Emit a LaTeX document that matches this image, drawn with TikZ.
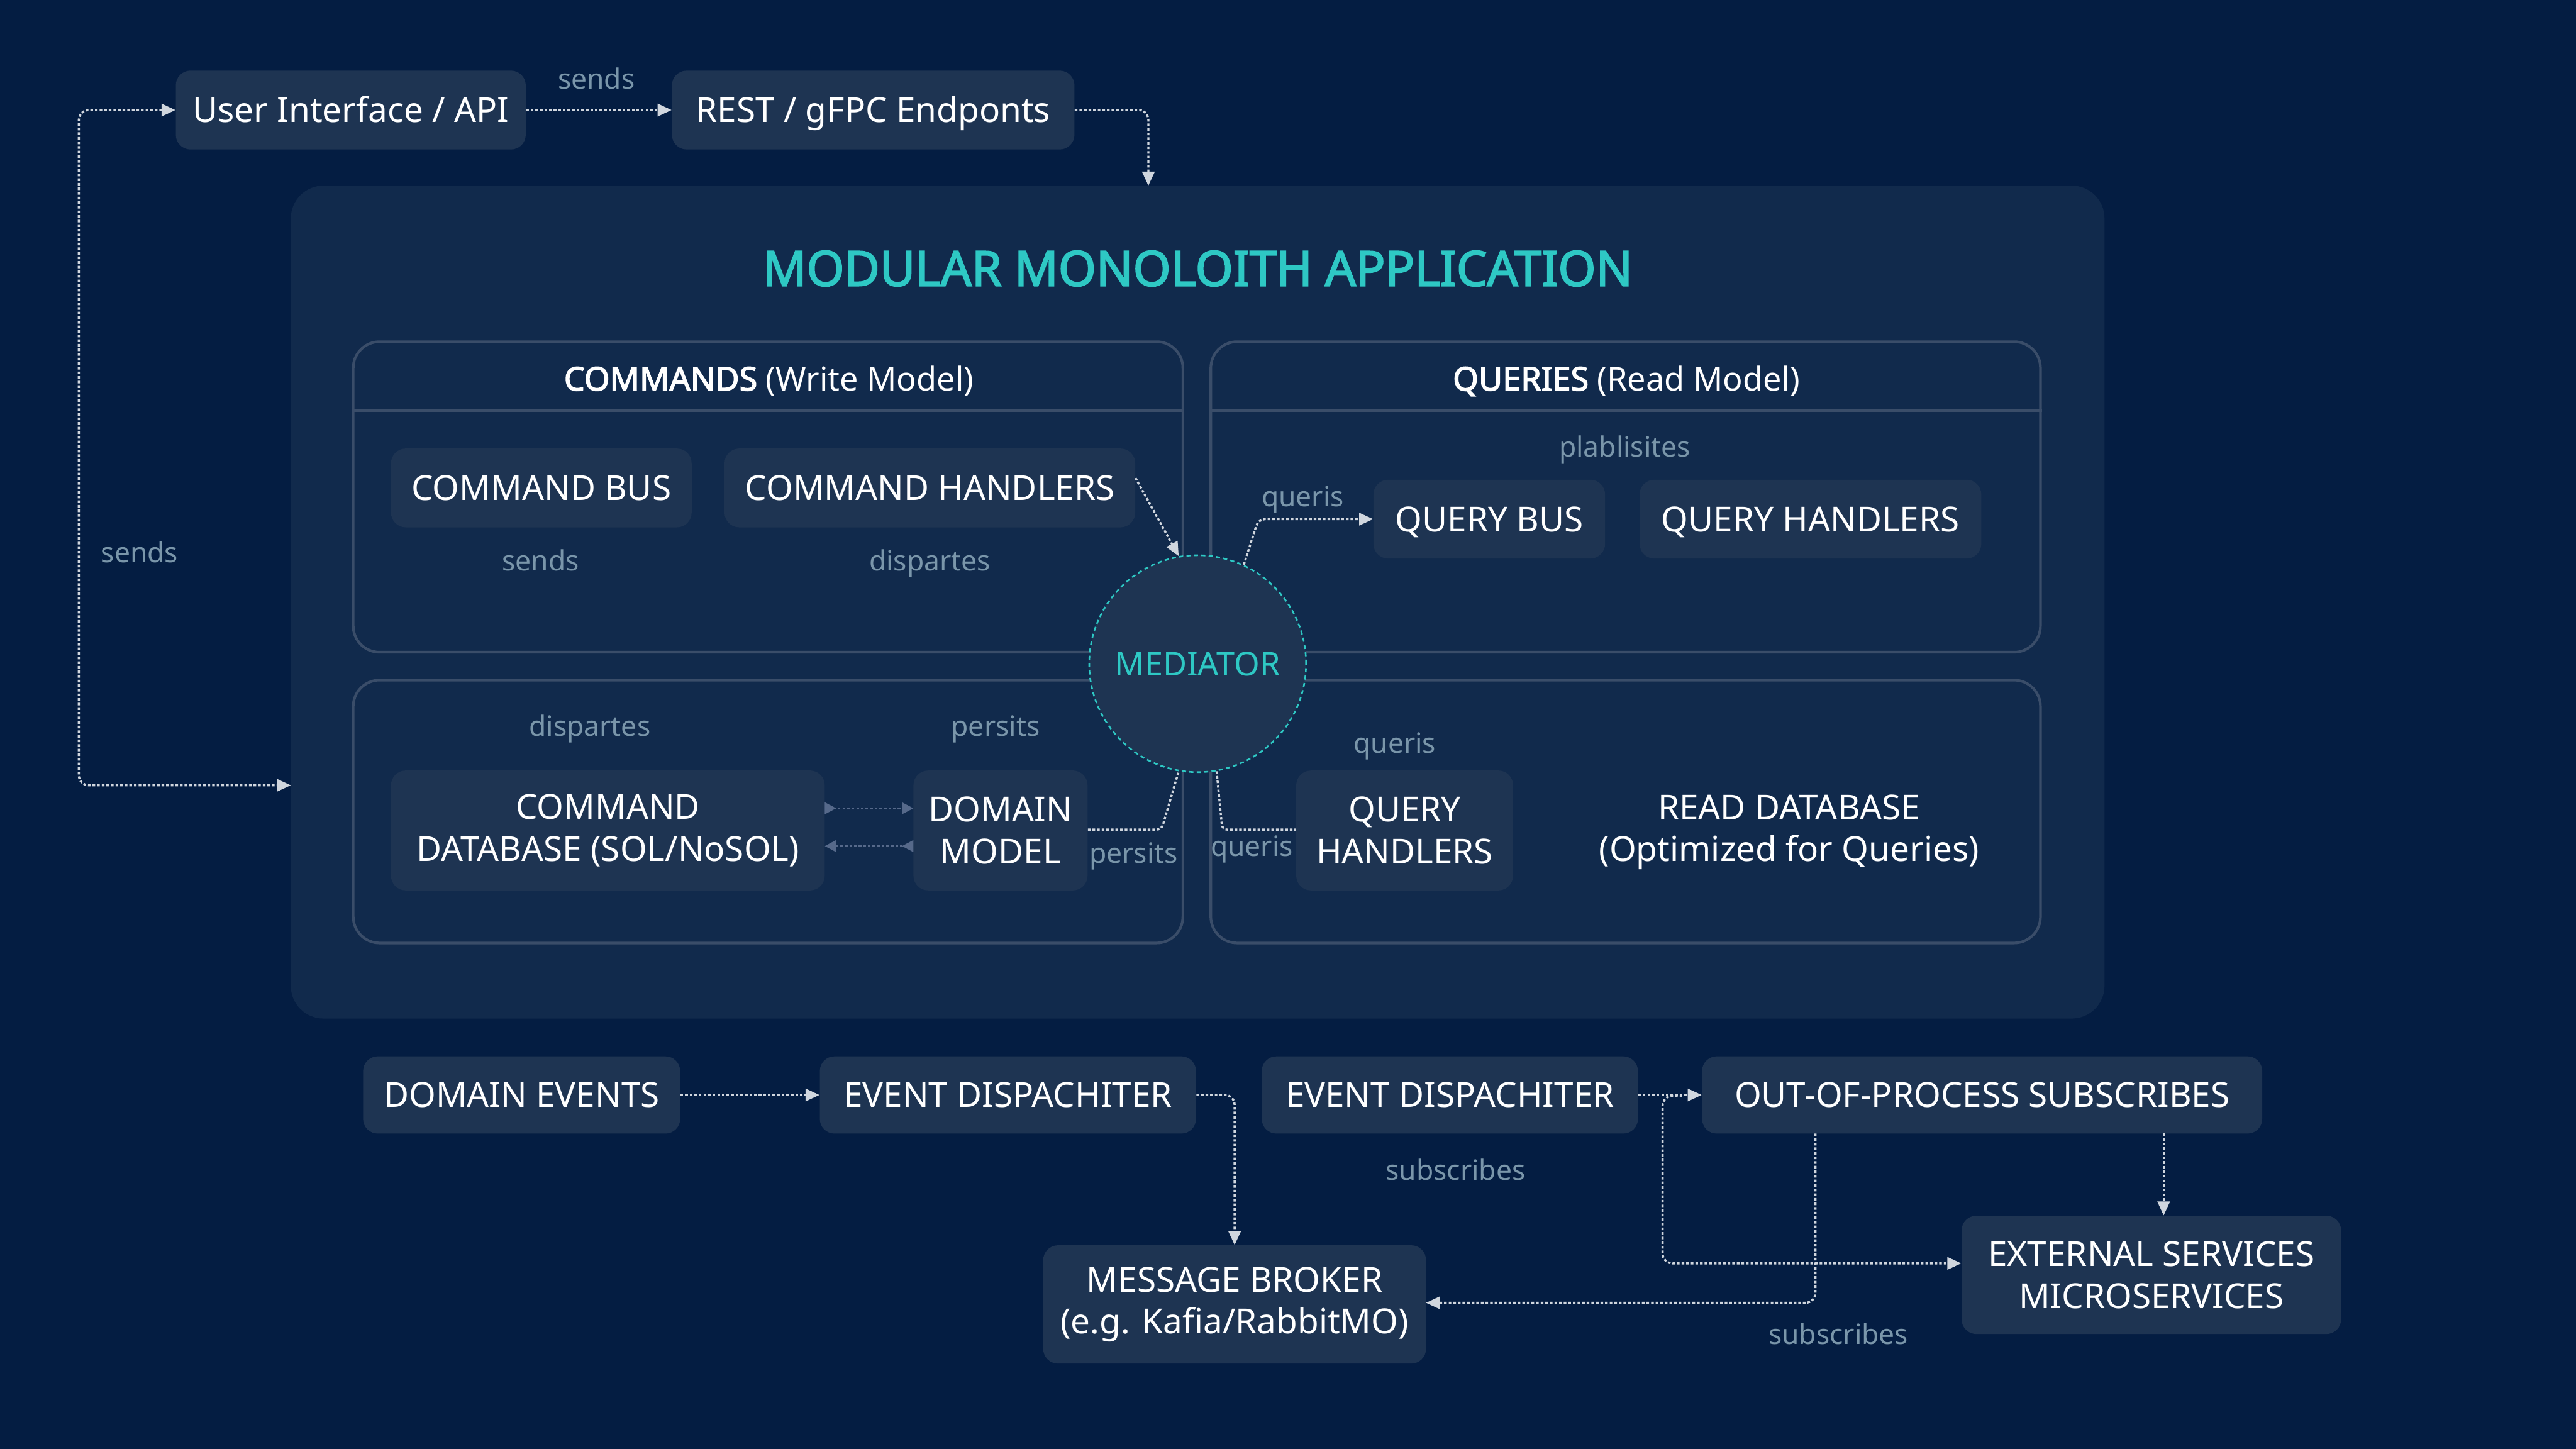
\documentclass[tikz,border=0pt]{standalone}
\usepackage{fontspec}
\setmainfont{Noto Sans}[AutoFakeBold=2.6]
\usetikzlibrary{arrows.meta,calc}
\definecolor{bg}{HTML}{041D42}
\definecolor{cont}{HTML}{112A4C}
\definecolor{boxc}{HTML}{1E3452}
\definecolor{panelb}{HTML}{3A4D69}
\definecolor{lab}{HTML}{7A96AA}
\definecolor{tealc}{HTML}{2EC8C4}
\definecolor{arrowc}{HTML}{D0D6DE}
\definecolor{darkarr}{HTML}{56698A}
\tikzset{
  box/.style={fill=boxc, rounded corners=9pt, text=white, font=\fontsize{21}{25.5}\selectfont, align=center, inner sep=0pt},
  oneline/.style={text height=15pt, text depth=0pt},
  panel/.style={draw=panelb, line width=1.6pt, fill=cont, rounded corners=16pt, inner sep=0pt},
  lbl/.style={text=lab, font=\fontsize{17}{20}\selectfont, inner sep=0pt, text height=12.5pt, text depth=0pt},
  conn/.style={draw=arrowc, line width=1.3pt, dash pattern=on 1.6pt off 1.2pt},
  tip/.style={-{Triangle[length=8.5pt,width=7.5pt]}},
  dconn/.style={draw=darkarr, line width=1.3pt, dash pattern=on 1.6pt off 1.2pt}
}
\begin{document}
\begin{tikzpicture}[x=1pt,y=-1pt]
\useasboundingbox (0,0) rectangle (1568,882);
\fill[bg] (0,0) rectangle (1568,882);
% container
\node[fill=cont, rounded corners=20pt, minimum width=1104pt, minimum height=507pt, inner sep=0pt] (container) at (729,366.5) {};
\node[text=tealc, font=\bfseries\fontsize{29.5}{34}\selectfont, text height=21pt, text depth=0pt, inner sep=0pt] (title) at (729,163.5) {MODULAR MONOLOITH APPLICATION};
% panels
\node[panel, minimum width=505pt, minimum height=189pt] (cmdpanel) at (467.5,302.5) {};
\node[panel, minimum width=505pt, minimum height=189pt] (qrypanel) at (989.5,302.5) {};
\node[panel, minimum width=505pt, minimum height=160pt] (cmdlow) at (467.5,494) {};
\node[panel, minimum width=505pt, minimum height=160pt] (qrylow) at (989.5,494) {};
\draw[panelb, line width=1.6pt] (cmdpanel.west |- 0,250) -- (cmdpanel.east |- 0,250);
\draw[panelb, line width=1.6pt] (qrypanel.west |- 0,250) -- (qrypanel.east |- 0,250);
\node[text=white, font=\fontsize{20}{24}\selectfont, text height=14.5pt, text depth=0pt, inner sep=0pt] (cmdtitle) at (468,230.5) {\textbf{COMMANDS} (Write Model)};
\node[text=white, font=\fontsize{20}{24}\selectfont, text height=14.5pt, text depth=0pt, inner sep=0pt] (qrytitle) at (990,230.5) {\textbf{QUERIES} (Read Model)};
% top boxes
\node[box, oneline, minimum width=213pt, minimum height=48pt] (ui) at (213.5,67) {User Interface / API};
\node[box, oneline, minimum width=245pt, minimum height=48pt] (rest) at (531.5,67) {REST / gFPC Endponts};
% command boxes
\node[box, oneline, minimum width=183pt, minimum height=48pt] (cbus) at (329.5,297) {COMMAND BUS};
\node[box, oneline, minimum width=250pt, minimum height=48pt] (chand) at (566,297) {COMMAND HANDLERS};
\node[box, oneline, minimum width=141pt, minimum height=48pt] (qbus) at (906.5,316) {QUERY BUS};
\node[box, oneline, minimum width=208pt, minimum height=48pt] (qhand) at (1102,316) {QUERY HANDLERS};
\node[box, minimum width=264pt, minimum height=73pt] (cdb) at (370,505.5) {COMMAND\\DATABASE (SOL/NoSOL)};
\node[box, minimum width=106pt, minimum height=73pt] (dm) at (609,505.5) {DOMAIN\\MODEL};
\node[box, minimum width=132pt, minimum height=73pt] (qh2) at (855,505.5) {QUERY\\HANDLERS};
\node[text=white, font=\fontsize{21}{25.5}\selectfont, align=center, inner sep=0pt] (readdb) at (1089,506.5) {READ DATABASE\\(Optimized for Queries)};
% mediator
\node[circle, fill=boxc, draw=tealc, line width=1pt, dash pattern=on 2.5pt off 2pt, minimum size=132pt, inner sep=0pt, text=tealc, font=\fontsize{20}{24}\selectfont, text height=14.5pt, text depth=0pt] (med) at (729,404) {MEDIATOR};
% bottom
\node[box, oneline, minimum width=193pt, minimum height=47pt] (de) at (317.5,666.5) {DOMAIN EVENTS};
\node[box, oneline, minimum width=229pt, minimum height=47pt] (ed1) at (613.5,666.5) {EVENT DISPACHITER};
\node[box, oneline, minimum width=229pt, minimum height=47pt] (ed2) at (882.5,666.5) {EVENT DISPACHITER};
\node[box, oneline, minimum width=341pt, minimum height=47pt] (oops) at (1206.5,666.5) {OUT-OF-PROCESS SUBSCRIBES};
\node[box, minimum width=233pt, minimum height=72pt] (mb) at (751.5,794) {MESSAGE BROKER\\(e.g. Kafia/RabbitMO)};
\node[box, minimum width=231pt, minimum height=72pt] (es) at (1309.5,776) {EXTERNAL SERVICES\\MICROSERVICES};
% labels
\node[lbl] (l1) at (363,48) {sends};
\node[lbl] (l2) at (85,336) {sends};
\node[lbl] (l3) at (329,341) {sends};
\node[lbl] (l4) at (566,341) {dispartes};
\node[lbl] (l5) at (989,272) {plablisites};
\node[lbl] (l6) at (793,302) {queris};
\node[lbl] (l7) at (359,442) {dispartes};
\node[lbl] (l8) at (606,442) {persits};
\node[lbl] (l9) at (690,519) {persits};
\node[lbl] (l10) at (762,515) {queris};
\node[lbl] (l11) at (849,452) {queris};
\node[lbl] (l12) at (886,712) {subscribes};
\node[lbl] (l13) at (1119,812) {subscribes};
% coordinates
\coordinate (cin) at (699,113);
\coordinate (lcorner) at (48,478);
\coordinate (cleft) at (177,478);
\coordinate (qbc) at (766,316);
\coordinate (dmc) at (707,505);
\coordinate (qhc) at (744,505);
\coordinate (br) at (1024,667);
\coordinate (brc) at (1012,769);
\coordinate (esin) at ($(es.west)+(0,-7)$);
\coordinate (ob) at (1105,690);
\coordinate (mbin) at (868,793);
\coordinate (o2) at (1317,690);
\coordinate (cdbu) at (502,492);
\coordinate (dmu) at (556,492);
\coordinate (cdbd) at (502,515);
\coordinate (dmd) at (556,515);
% connectors
\draw[conn, tip] (ui.east) -- (rest.west);
\draw[conn, tip, rounded corners=6pt] (rest.east) -| (cin);
\draw[conn, {Triangle[length=8.5pt,width=7.5pt]}-{Triangle[length=8.5pt,width=7.5pt]}, rounded corners=6pt] (ui.west) -| (lcorner) -- (cleft);
\draw[conn, tip] ([yshift=6pt]chand.east) -- (med.100);
\draw[conn, tip, rounded corners=4pt] (med.65) -- (qbc) -- (qbus.west);
\draw[conn, rounded corners=3pt] (dm.east |- dmc) -- (dmc) -- (med.260);
\draw[conn, rounded corners=3pt] (med.280) -- (qhc) -- (qh2.west |- qhc);
\draw[dconn, {Triangle[reversed,length=7pt,width=7pt]}-{Triangle[length=7pt,width=7pt]}] (cdbu) -- (dmu);
\draw[dconn, {Triangle[length=7pt,width=7pt]}-{Triangle[reversed,length=7pt,width=7pt]}] (cdbd) -- (dmd);
\draw[conn, tip] (de.east) -- (ed1.west);
\draw[conn, tip, rounded corners=6pt] (ed1.east) -| (mb.north);
\draw[conn, tip] (ed2.east) -- (oops.west);
\draw[conn, tip, rounded corners=6pt] (br) -| (brc) -- (esin);
\draw[conn, tip, rounded corners=6pt] (ob) |- (mbin);
\draw[conn, tip] (o2) -- (o2 |- es.north);
\end{tikzpicture}
\end{document}
